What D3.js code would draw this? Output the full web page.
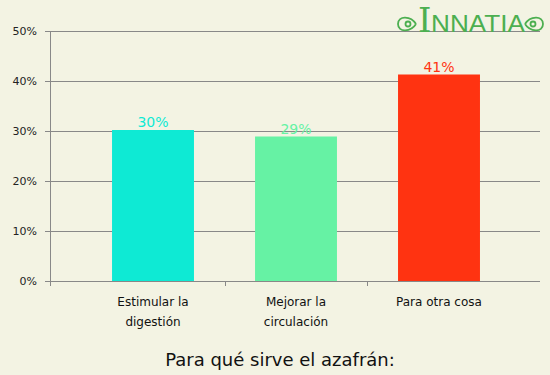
<!DOCTYPE html>
<html>
<head>
<meta charset="utf-8">
<script src="https://cdn.jsdelivr.net/npm/d3@7"></script>
<style>
  body { margin: 0; background: #f2f2e2; }
  svg { display: block; font-family: "DejaVu Sans", Verdana, sans-serif; }
</style>
</head>
<body>
<svg width="550" height="375"></svg>
<script>
const categories = ["Estimular la|digestión", "Mejorar la|circulación", "Para otra cosa"];
const values = [30.2, 28.9, 41.3];
const colors = ["#0eead4", "#66f2a4", "#ff3311"];
const yTicks = [0, 10, 20, 30, 40, 50];
const title = "Para qué sirve el azafrán:";

const svg = d3.select("svg");
svg.append("rect").attr("width", 550).attr("height", 375).attr("fill", "#f3f3e3");

const plotLeft = 50, plotRight = 540, plotTop = 31, plotBottom = 281;

const x = d3.scaleBand()
  .domain(categories)
  .range([81.5, 510.5])
  .paddingInner(0.427)
  .paddingOuter(0.2135);

const y = d3.scaleLinear().domain([0, 50]).range([plotBottom, plotTop]);

// gridlines
svg.append("g")
  .selectAll("line")
  .data(yTicks)
  .join("line")
  .attr("x1", plotLeft - 5)
  .attr("x2", plotRight)
  .attr("y1", d => Math.round(y(d)) + 0.5)
  .attr("y2", d => Math.round(y(d)) + 0.5)
  .attr("stroke", "#888")
  .attr("stroke-width", 1);

// y tick labels
svg.append("g")
  .selectAll("text")
  .data(yTicks)
  .join("text")
  .attr("x", 37)
  .attr("y", d => y(d) + 4)
  .attr("text-anchor", "end")
  .attr("font-size", 11)
  .attr("fill", "#222")
  .text(d => d + "%");

// logo
const logo = svg.append("g").attr("fill", "#4caf50");
logo.append("text")
  .attr("x", 418).attr("y", 32)
  .attr("font-family", "'DejaVu Serif', serif")
  .attr("font-size", 34)
  .text("I");
logo.append("text")
  .attr("x", 431).attr("y", 32)
  .attr("font-family", "'Liberation Sans', sans-serif")
  .attr("font-size", 23)
  .attr("textLength", 94)
  .attr("lengthAdjust", "spacingAndGlyphs")
  .text("NNATIA");
[[407, 1], [534, -1]].forEach(([cx, s]) => {
  const o = logo.append("g").attr("transform", `translate(${cx},24) scale(${s},1)`)
    .attr("fill", "none").attr("stroke", "#4caf50").attr("stroke-width", 1.8);
  o.append("path").attr("d", "M9,0 C4,-8 -9,-9 -9,0 C-9,9 4,8 9,0");
  o.append("circle").attr("cx", 1).attr("cy", 0).attr("r", 2.5);
});

// bars
svg.append("g")
  .selectAll("rect")
  .data(values)
  .join("rect")
  .attr("x", (d, i) => x(categories[i]))
  .attr("width", x.bandwidth())
  .attr("y", d => y(d))
  .attr("height", d => y(0) - y(d))
  .attr("fill", (d, i) => colors[i]);

svg.append("g")
  .selectAll("text")
  .data(values)
  .join("text")
  .attr("x", (d, i) => x(categories[i]) + x.bandwidth() / 2)
  .attr("y", d => y(d) - 3)
  .attr("text-anchor", "middle")
  .attr("font-size", 14)
  .attr("fill", (d, i) => colors[i])
  .text(d => Math.round(d) + "%");

// axes lines
svg.append("line")
  .attr("x1", plotLeft + 0.5).attr("x2", plotLeft + 0.5)
  .attr("y1", plotTop).attr("y2", plotBottom + 5)
  .attr("stroke", "#888");
const step = x.step();
const boundaries = categories.slice(1).map(c => x(c) - step * x.paddingInner() / 2);
svg.append("g")
  .selectAll("line")
  .data(boundaries)
  .join("line")
  .attr("x1", d => Math.round(d) + 0.5)
  .attr("x2", d => Math.round(d) + 0.5)
  .attr("y1", plotBottom)
  .attr("y2", plotBottom + 5)
  .attr("stroke", "#888");

// category labels
svg.append("g")
  .selectAll("text")
  .data(categories)
  .join("text")
  .attr("x", d => x(d) + x.bandwidth() / 2)
  .attr("y", 306)
  .attr("text-anchor", "middle")
  .attr("font-size", 12)
  .attr("fill", "#111")
  .each(function(d) {
    const t = d3.select(this);
    d.split("|").forEach((line, i) => {
      t.append("tspan")
        .attr("x", x(d) + x.bandwidth() / 2)
        .attr("dy", i === 0 ? 0 : 20)
        .text(line);
    });
  });

svg.append("text")
  .attr("x", 280)
  .attr("y", 366)
  .attr("text-anchor", "middle")
  .attr("font-size", 18)
  .attr("fill", "#111")
  .text(title);
</script>
</body>
</html>
